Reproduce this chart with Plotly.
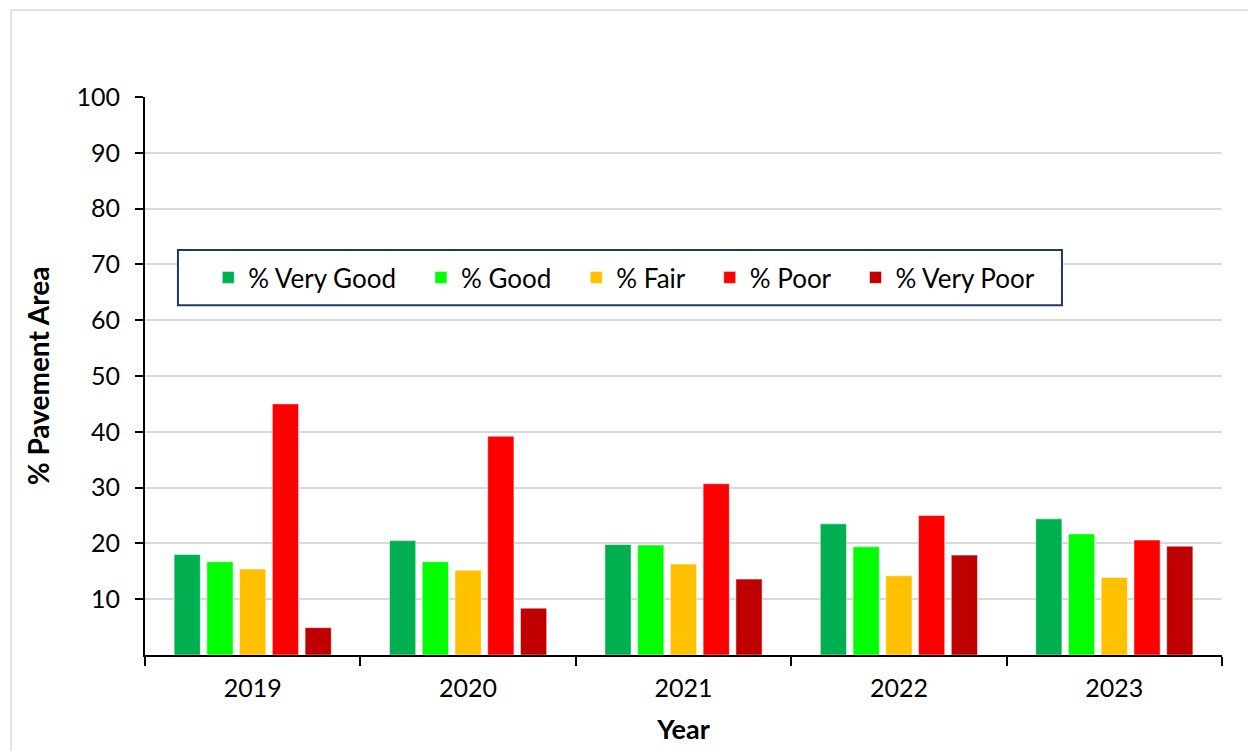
import plotly.graph_objects as go

years = ["2019", "2020", "2021", "2022", "2023"]

very_good = [18.0, 20.5, 19.8, 23.5, 24.4]
good = [16.7, 16.7, 19.7, 19.4, 21.7]
fair = [15.4, 15.2, 16.3, 14.2, 13.9]
poor = [45.0, 39.2, 30.7, 25.0, 20.6]
very_poor = [4.9, 8.4, 13.6, 17.9, 19.5]

series = [
    ("% Very Good", very_good, "#00B050"),
    ("% Good", good, "#00FF00"),
    ("% Fair", fair, "#FFC000"),
    ("% Poor", poor, "#FF0000"),
    ("% Very Poor", very_poor, "#C00000"),
]

font = "Lato, 'Open Sans', sans-serif"
pad = "\u00a0" * 3  # widen the gap between legend entries

fig = go.Figure()
for i, (name, vals, color) in enumerate(series):
    label = name if i == len(series) - 1 else name + pad
    fig.add_trace(go.Bar(x=years, y=vals, name=label, marker_color=color,
                         marker_line=dict(color="white", width=0.5)))

# page body has an 8px margin, so the margins are shifted to compensate
fig.update_layout(
    width=1256,
    height=751,
    barmode="group",
    bargap=0.24,
    bargroupgap=0.2,
    plot_bgcolor="white",
    paper_bgcolor="white",
    font=dict(family=font, size=25, color="black"),
    margin={"l": 137, "r": 42, "t": 89, "b": 104},
    legend=dict(
        orientation="h",
        x=0.445, xanchor="center",
        y=0.6765, yanchor="middle",
        bgcolor="rgba(0,0,0,0)",
        font=dict(size=26),
        traceorder="normal",
    ),
    showlegend=True,
)

fig.update_xaxes(
    showline=True, linecolor="black", linewidth=2,
    ticks="outside", ticklen=9, tickwidth=2, tickcolor="black",
    tickson="boundaries",
    tickfont=dict(size=25),
    ticklabelstandoff=10,
    title=dict(text="<b>Year</b>", font=dict(size=27), standoff=19),
)
fig.update_yaxes(
    range=[0, 100],
    tickvals=list(range(10, 101, 10)),
    showline=True, linecolor="black", linewidth=2,
    ticks="outside", ticklen=8, tickwidth=2, tickcolor="black",
    showgrid=True, gridcolor="#D9D9D9", gridwidth=1.5,
    tickfont=dict(size=25),
    ticklabelstandoff=10,
    title=dict(text="<b>% Pavement Area</b>", font=dict(size=28), standoff=19),
)

# legend frame and outer chart border
fig.add_shape(type="rect", xref="paper", yref="paper",
              x0=0.0306, x1=0.8514, y0=0.627, y1=0.7258,
              line=dict(color="#203864", width=2), fillcolor="white", layer="above")
fig.add_shape(type="rect", xref="paper", yref="paper",
              x0=-0.1244, x1=1.04, y0=-0.2, y1=1.156,
              line=dict(color="#D9D9D9", width=1.5), layer="below")

fig.write_html("out.html")
